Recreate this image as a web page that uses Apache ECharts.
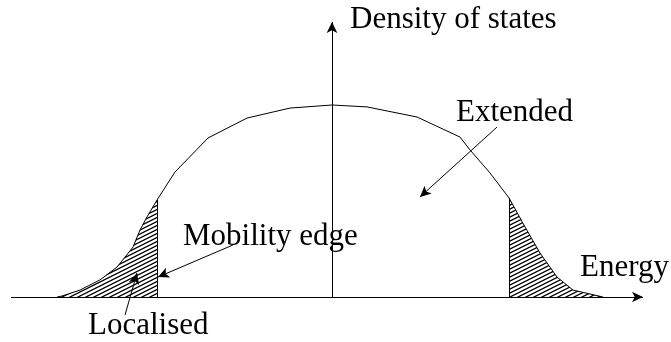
<!DOCTYPE html>
<html>
<head>
<meta charset="utf-8">
<script src="https://cdn.jsdelivr.net/npm/echarts@6/dist/echarts.min.js"></script>
<style>
  html, body { margin: 0; padding: 0; background: #fff; }
  #chart { width: 671px; height: 342px; }
</style>
</head>
<body>
<div id="chart"></div>
<script>
// Density of states vs energy (arbitrary units, energy centred on 0)
const dosCurve = [
  [-2.75, 0], [-2.70, 0.005], [-2.52, 0.036], [-2.32, 0.089], [-2.15, 0.156],
  [-1.99, 0.26], [-1.92, 0.349], [-1.85, 0.417], [-1.75, 0.505], [-1.57, 0.651],
  [-1.24, 0.828], [-0.85, 0.932], [-0.42, 0.984], [0, 1.0], [0.35, 0.99],
  [0.85, 0.9375], [1.28, 0.833], [1.38, 0.766], [1.58, 0.646], [1.77, 0.516],
  [1.93, 0.365], [2.08, 0.229], [2.25, 0.104], [2.41, 0.036], [2.71, 0]
];
// Mobility edges (energies)
const mobilityEdges = [-1.75, 1.77];

// Axis extents
const energyRange = [-3.21, 3.11];
const dosAxisTop = 1.432;

// Annotation arrows: [from, to]
const arrowExtended = [[1.65, 0.885], [0.88, 0.521]];
const arrowMobility = [[-0.99, 0.271], [-1.74, 0.104]];
const arrowLocalised = [[-2.07, -0.094], [-1.95, 0.125]];

// Text labels
const labels = {
  dos: 'Density of states',
  energy: 'Energy',
  extended: 'Extended',
  mobility: 'Mobility edge',
  localised: 'Localised'
};

// Diagonal hatch pattern for the localised tails
function makeHatch() {
  const w = 8, h = 4;
  const c = document.createElement('canvas');
  c.width = w; c.height = h;
  const ctx = c.getContext('2d');
  ctx.fillStyle = '#fff';
  ctx.fillRect(0, 0, w, h);
  ctx.strokeStyle = '#000';
  ctx.lineWidth = 1.25;
  for (let k = -h; k <= 2 * h; k += h) {
    ctx.beginPath();
    ctx.moveTo(-1, k + 0.5);
    ctx.lineTo(w + 1, k - (w + 2) / 2 + 0.5);
    ctx.stroke();
  }
  return c;
}
const hatch = makeHatch();

const leftTail = dosCurve.filter(p => p[0] <= mobilityEdges[0]);
const rightTail = dosCurve.filter(p => p[0] >= mobilityEdges[1]);
const edgeValue = x => dosCurve.find(p => p[0] === x)[1];

const chart = echarts.init(document.getElementById('chart'), null, { renderer: 'canvas' });

const blackLine = { color: '#000', width: 1, type: 'solid' };
function arrowItem(pair) {
  return [{ coord: pair[0] }, { coord: pair[1] }];
}

const font = '"Liberation Serif", "Times New Roman", serif';
function textEl(str, x, y) {
  return {
    type: 'text', x: x, y: y,
    style: { text: str, font: '31px ' + font, fill: '#000', verticalAlign: 'middle', align: 'left' }
  };
}

chart.setOption({
  animation: false,
  backgroundColor: '#fff',
  grid: { left: 0, right: 0, top: 0, bottom: 0 },
  xAxis: {
    type: 'value', min: -3.32, max: 3.39,
    axisLine: { show: false }, axisTick: { show: false },
    axisLabel: { show: false }, splitLine: { show: false }
  },
  yAxis: {
    type: 'value', min: -45 / 192, max: 297 / 192,
    axisLine: { show: false }, axisTick: { show: false },
    axisLabel: { show: false }, splitLine: { show: false }
  },
  series: [
    {
      name: 'left tail', type: 'line', data: leftTail, symbol: 'none',
      lineStyle: { width: 0 },
      areaStyle: { color: { image: hatch, repeat: 'repeat' }, opacity: 1 },
      z: 1
    },
    {
      name: 'right tail', type: 'line', data: rightTail, symbol: 'none',
      lineStyle: { width: 0 },
      areaStyle: { color: { image: hatch, repeat: 'repeat' }, opacity: 1 },
      z: 1
    },
    {
      name: 'edges', type: 'line', symbol: 'none', data: [], z: 3,
      markLine: {
        silent: true, symbol: ['none', 'none'], label: { show: false },
        lineStyle: blackLine,
        data: mobilityEdges.map(x => [{ coord: [x, 0] }, { coord: [x, edgeValue(x)] }])
      }
    },
    {
      name: 'DOS', type: 'line', data: dosCurve, symbol: 'none', smooth: false,
      lineStyle: blackLine, z: 4,
      markLine: {
        silent: true, symbol: ['none', 'arrow'], symbolSize: [8, 11],
        label: { show: false },
        lineStyle: blackLine,
        data: [
          [{ coord: [energyRange[0], 0] }, { coord: [energyRange[1], 0] }],
          [{ coord: [0, 0] }, { coord: [0, dosAxisTop] }],
          arrowItem(arrowExtended),
          arrowItem(arrowMobility),
          arrowItem(arrowLocalised)
        ]
      }
    }
  ],
  graphic: [
    textEl(labels.dos, 350, 20),
    textEl(labels.extended, 456, 113),
    textEl(labels.energy, 580, 268),
    textEl(labels.mobility, 183, 237),
    textEl(labels.localised, 88, 326)
  ]
});
</script>
</body>
</html>
